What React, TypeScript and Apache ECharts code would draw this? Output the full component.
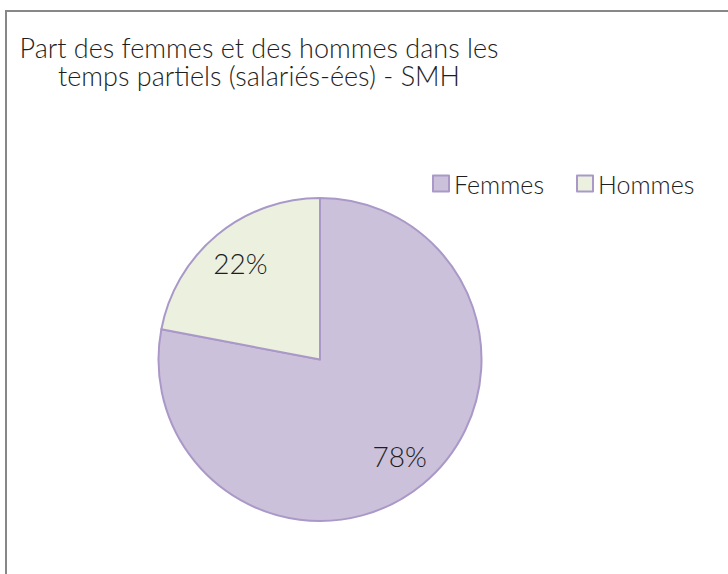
import React, { useEffect, useRef } from "react";
import * as echarts from "echarts";

const titleLines = ["Part des femmes et des hommes dans les", "temps partiels (salariés-ées) - SMH"];
const categories = ["Femmes", "Hommes"];
const shares = [78, 22];
const fillColors = ["#CCC1DA", "#EBF1DE"];

const FONT = "Lato";
const TEXT = "#1e1e1e";
const EDGE = "#AA99C8";

export default function App() {
  const ref = useRef<HTMLDivElement>(null);
  useEffect(() => {
    if (!ref.current) return;
    const chart = echarts.init(ref.current, null, { renderer: "svg" });
    const data = categories.map((name, i) => ({
      name,
      value: shares[i],
      itemStyle: { color: fillColors[i] },
    }));
    chart.setOption({
      animation: false,
      backgroundColor: "#ffffff",
      graphic: [
        {
          type: "rect",
          shape: { x: 6, y: 11, width: 900, height: 800 },
          style: { fill: "none", stroke: "#878787", lineWidth: 2 },
          silent: true,
          z: -10,
        },
      ],
      title: {
        text: titleLines.join("\n"),
        left: 259,
        top: 33,
        padding: 0,
        textAlign: "center",
        textStyle: {
          fontFamily: FONT,
          fontWeight: 300,
          fontSize: 27,
          lineHeight: 28.5,
          color: TEXT,
        },
      },
      legend: {
        data: categories,
        left: 432,
        top: 171,
        padding: 0,
        icon: "rect",
        itemWidth: 16,
        itemHeight: 16,
        itemGap: 32,
        selectedMode: false,
        textStyle: {
          fontFamily: FONT,
          fontWeight: 300,
          fontSize: 25,
          color: TEXT,
          padding: [0, 0, 0, 0],
        },
        itemStyle: { borderColor: EDGE, borderWidth: 2 },
      },
      series: [
        {
          type: "pie",
          center: [320, 359.5],
          radius: [0, 161.5],
          startAngle: 90,
          clockwise: true,
          silent: true,
          label: { show: false },
          labelLine: { show: false },
          itemStyle: { borderColor: EDGE, borderWidth: 2 },
          data,
        },
        {
          type: "pie",
          center: [320, 359.5],
          radius: [0, 244],
          startAngle: 90,
          clockwise: true,
          silent: true,
          legendHoverLink: false,
          itemStyle: { color: "rgba(0,0,0,0)", borderWidth: 0 },
          label: {
            show: true,
            position: "inside",
            formatter: "{c}%",
            fontFamily: FONT,
            fontWeight: 300,
            fontSize: 28,
            color: TEXT,
          },
          labelLine: { show: false },
          data: categories.map((name, i) => ({ name, value: shares[i] })),
        },
      ],
    });
    return () => chart.dispose();
  }, []);
  return (
    <div
      ref={ref}
      style={{ position: "absolute", left: 0, top: 0, width: 728, height: 574 }}
    />
  );
}
